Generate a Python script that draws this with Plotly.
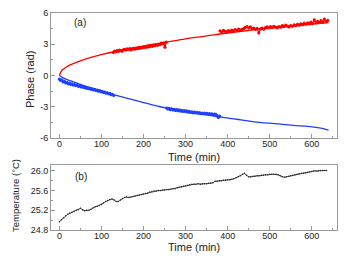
import plotly.graph_objects as go

# ---------------- data ----------------
# Panel (a): phase vs time
red_fit_t = [0, 5, 10, 20, 30, 50, 75, 100, 130, 160, 200, 250, 300, 350, 400, 450, 500, 550, 600, 640]
red_fit_v = [0, 0.45, 0.63, 0.9, 1.1, 1.41, 1.73, 2.0, 2.28, 2.53, 2.83, 3.16, 3.52, 3.8, 4.08, 4.32, 4.55, 4.75, 4.93, 5.08]

red1_t = [128, 131, 134, 137, 140, 143, 146, 149, 152, 155, 158, 161, 164, 167, 170, 173, 176, 179, 182, 185, 188,
          191, 194, 197, 200, 203, 206, 209, 212, 215, 218, 221, 224, 227, 230, 233, 236, 239, 242, 245, 248, 251, 254]
red1_v = [2.21, 2.35, 2.28, 2.40, 2.31, 2.44, 2.38, 2.33, 2.47, 2.52, 2.43, 2.55, 2.49, 2.58, 2.46, 2.55, 2.61, 2.52,
          2.63, 2.57, 2.68, 2.60, 2.71, 2.64, 2.75, 2.69, 2.80, 2.72, 2.84, 2.77, 2.89, 2.80, 2.92, 2.86, 2.97, 2.90,
          3.02, 2.95, 3.10, 3.03, 3.14, 2.72, 3.20]

red2_t = [382, 386, 390, 394, 398, 402, 406, 410, 414, 418, 422, 426, 430, 434, 438, 442, 446, 450, 454, 458, 462,
          466, 470, 474, 478, 482, 486, 490, 494, 498, 502, 506, 510, 514, 518, 522, 526, 530, 534, 538, 542, 546,
          550, 554, 558, 562, 566, 570, 574, 578, 582, 586, 590, 594, 598, 602, 606, 610, 614, 618, 622, 626, 630,
          634, 638]
red2_v = [4.28, 4.20, 4.33, 4.25, 4.19, 4.31, 4.24, 4.36, 4.27, 4.40, 4.32, 4.45, 4.36, 4.42, 4.50, 4.62, 4.70, 4.58,
          4.66, 4.49, 4.55, 4.43, 4.52, 4.08, 4.47, 4.55, 4.44, 4.60, 4.66, 4.57, 4.69, 4.62, 4.73, 4.65, 4.58, 4.70,
          4.64, 4.78, 4.70, 4.84, 4.74, 4.66, 4.80, 4.72, 4.86, 4.78, 4.90, 4.83, 4.97, 4.88, 5.02, 4.92, 5.06, 4.95,
          5.12, 4.98, 5.34, 5.05, 5.20, 5.08, 5.28, 5.12, 5.42, 5.18, 5.30]

blue_fit_t = [0, 10, 25, 50, 75, 100, 130, 160, 200, 239, 274, 320, 381, 420, 476, 512, 555, 590, 610, 625, 640]
blue_fit_v = [0, -0.25, -0.5, -0.85, -1.18, -1.5, -1.85, -2.18, -2.6, -3.0, -3.22, -3.55, -3.98, -4.2, -4.5, -4.62,
              -4.78, -4.88, -4.97, -5.08, -5.25]

blue1_t = [0, 3, 6, 9, 12, 15, 18, 21, 24, 27, 30, 33, 36, 39, 42, 45, 48, 51, 54, 57, 60, 63, 66, 69, 72, 75, 78,
           81, 84, 87, 90, 93, 96, 99, 102, 105, 108, 111, 114, 117, 120, 123, 126, 129]
blue1_v = [-0.35, -0.48, -0.42, -0.62, -0.55, -0.72, -0.66, -0.80, -0.74, -0.86, -0.80, -0.92, -0.87, -0.97, -0.93,
           -1.04, -0.98, -1.10, -1.05, -1.15, -1.10, -1.22, -1.17, -1.27, -1.22, -1.33, -1.28, -1.38, -1.34, -1.45,
           -1.40, -1.50, -1.46, -1.57, -1.53, -1.63, -1.60, -1.70, -1.66, -1.76, -1.72, -1.84, -1.80, -1.92]

blue2_t = [255, 258, 261, 264, 267, 270, 273, 276, 279, 282, 285, 288, 291, 294, 297, 300, 303, 306, 309, 312, 315,
           318, 321, 324, 327, 330, 333, 336, 339, 342, 345, 348, 351, 354, 357, 360, 363, 366, 369, 372, 375, 378, 381]
blue2_v = [-3.12, -3.22, -3.15, -3.28, -3.20, -3.31, -3.24, -3.35, -3.27, -3.38, -3.30, -3.42, -3.34, -3.45, -3.38,
           -3.47, -3.40, -3.52, -3.44, -3.55, -3.48, -3.58, -3.51, -3.60, -3.54, -3.63, -3.57, -3.66, -3.60, -3.68,
           -3.62, -3.70, -3.64, -3.72, -3.66, -3.74, -3.69, -3.77, -3.70, -3.72, -3.85, -4.02, -3.90]

# Panel (b): temperature vs time
temp_t = list(range(0, 640, 5))
temp_v = [24.97, 25.01, 25.05, 25.09, 25.12, 25.14, 25.16, 25.18, 25.20, 25.21, 25.24, 25.21, 25.19, 25.20, 25.20,
          25.22, 25.25, 25.27, 25.28, 25.30, 25.32, 25.35, 25.38, 25.40, 25.42, 25.43, 25.41, 25.38, 25.38, 25.41,
          25.44, 25.46, 25.47, 25.46, 25.47, 25.48, 25.49, 25.50, 25.51, 25.52, 25.53, 25.54, 25.55, 25.57, 25.58,
          25.59, 25.59, 25.60, 25.60, 25.61, 25.61, 25.62, 25.62, 25.63, 25.64, 25.64, 25.66, 25.67, 25.68, 25.69,
          25.70, 25.71, 25.72, 25.73, 25.73, 25.73, 25.74, 25.73, 25.74, 25.74, 25.74, 25.75, 25.75, 25.76, 25.79,
          25.79, 25.80, 25.80, 25.81, 25.81, 25.82, 25.82, 25.83, 25.84, 25.86, 25.88, 25.90, 25.93, 25.95, 25.91,
          25.88, 25.88, 25.89, 25.89, 25.90, 25.90, 25.91, 25.91, 25.92, 25.92, 25.93, 25.93, 25.93, 25.93, 25.92,
          25.90, 25.88, 25.87, 25.88, 25.89, 25.90, 25.91, 25.92, 25.93, 25.94, 25.95, 25.95, 25.96, 25.97, 25.98,
          25.99, 26.00, 26.00, 26.00, 26.01, 26.01, 26.01, 26.01]

x_ticks = [0, 100, 200, 300, 400, 500, 600]
phase_ticks = [6, 3, 0, -3, -6]
phase_tick_text = ["6", "3", "0", "-3", "-6"]
temp_ticks = [24.8, 25.2, 25.6, 26.0]
temp_tick_text = ["24.8", "25.2", "25.6", "26.0"]

# ---------------- figure ----------------
RED = "#ff0000"
BLUE = "#2040ff"
AX = "#999999"
TXT = "#222222"
FONT = "Liberation Sans, Arial, sans-serif"

fig = go.Figure()

fig.add_trace(go.Scatter(x=red_fit_t, y=red_fit_v, mode="lines", line=dict(color=RED, width=1.3, shape="spline"),
                         xaxis="x", yaxis="y"))
fig.add_trace(go.Scatter(x=blue_fit_t, y=blue_fit_v, mode="lines", line=dict(color=BLUE, width=1.3, shape="spline"),
                         xaxis="x", yaxis="y"))
for tt, vv, cc in [(red1_t, red1_v, RED), (red2_t, red2_v, RED), (blue1_t, blue1_v, BLUE), (blue2_t, blue2_v, BLUE)]:
    fig.add_trace(go.Scatter(x=tt, y=vv, mode="lines+markers", line=dict(color=cc, width=1.2),
                             marker=dict(color=cc, size=3.2), xaxis="x", yaxis="y"))

fig.add_trace(go.Scatter(x=temp_t, y=temp_v, mode="lines+markers", line=dict(color="#222222", width=0.8),
                         marker=dict(color="#222222", size=1.5), xaxis="x2", yaxis="y2"))

xdom = [51 / 349, 337 / 349]
tickfont = dict(size=9, color=TXT, family=FONT)
common = dict(ticks="inside", ticklen=4, tickcolor=AX, tickwidth=1, showline=True, linecolor=AX, linewidth=1,
              mirror=True, showgrid=False, zeroline=False, automargin=False, tickfont=tickfont)
common_x = dict(range=[-20, 660], tickvals=x_ticks, domain=xdom, ticklabelstandoff=-3,
                minor=dict(dtick=50, tick0=0, ticks="inside", ticklen=2, tickcolor=AX, showgrid=False), **common)

fig.update_layout(
    width=349, height=263,
    margin=dict(l=0, r=0, t=0, b=0, pad=0),
    paper_bgcolor="white", plot_bgcolor="white",
    showlegend=False,
    font=dict(family=FONT, color=TXT),
    xaxis=dict(anchor="y", **common_x),
    yaxis=dict(domain=[1 - 138 / 263, 1 - 13 / 263], range=[-6, 6], tickvals=phase_ticks, ticktext=phase_tick_text,
               minor=dict(dtick=1.5, tick0=0, ticks="inside", ticklen=2, tickcolor=AX, showgrid=False),
               anchor="x", **common),
    xaxis2=dict(anchor="y2", **common_x),
    yaxis2=dict(domain=[1 - 230 / 263, 1 - 165 / 263], range=[24.8, 26.12], tickvals=temp_ticks,
                ticktext=temp_tick_text,
                minor=dict(dtick=0.2, tick0=24.8, ticks="inside", ticklen=2, tickcolor=AX, showgrid=False),
                anchor="x2", **common),
)


def note(text, x, y, size, angle=0):
    fig.add_annotation(text=text, x=x / 349, y=1 - y / 263, xref="paper", yref="paper", showarrow=False,
                       textangle=angle, xanchor="center", yanchor="middle",
                       font=dict(family=FONT, size=size, color=TXT))


note("Phase (rad)", 30, 79, 11, -90)
note("Time (min)", 194, 156.5, 11)
note("Temperature (\u00b0C)", 15, 196, 9.5, -90)
note("Time (min)", 194, 247, 11)
note("(a)", 80, 23, 10)
note("(b)", 80.5, 176.7, 10)

fig.write_html(
    "out.html",
    config={"displayModeBar": False},
    post_script="document.body.style.margin='0';document.body.style.overflow='hidden';",
)
